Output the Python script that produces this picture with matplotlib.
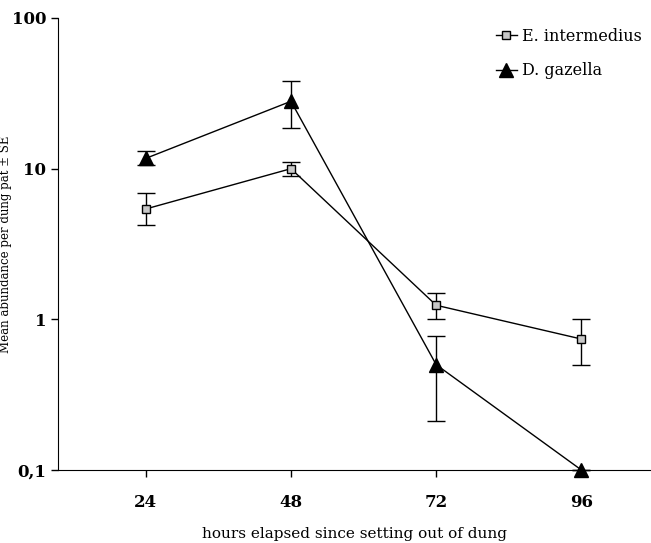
import matplotlib
matplotlib.use("Agg")
import matplotlib.pyplot as plt
from matplotlib.lines import Line2D
import numpy as np

hours = [24, 48, 72, 96]
e_int_mean = [5.4, 10.0, 1.24, 0.74]
e_int_lo = [4.2, 9.0, 1.0, 0.50]
e_int_hi = [6.9, 11.0, 1.49, 1.0]
d_gaz_hours = [24, 48, 72, 96]
d_gaz_mean = [11.7, 28.0, 0.50, 0.1]
d_gaz_lo = [10.5, 18.5, 0.21, 0.1]
d_gaz_hi = [13.0, 38.0, 0.78, 0.1]
yticks = [0.1, 1, 10, 100]
ytick_labels = ["0,1", "1", "10", "100"]

plt.rcParams['font.family'] = ['DejaVu Serif']

fig = plt.figure(figsize=(6.51, 5.43), dpi=100)
ax = fig.add_axes([58/651, 73/543, 1 - 58/651, (470-18)/543])

def err(mean, lo, hi):
    m = np.array(mean); return [m - np.array(lo), np.array(hi) - m]

sq_style = dict(marker='s', ms=6, mfc='#c8c8c8', mec='black', mew=1.0)
tri_style = dict(marker='^', ms=10, mfc='black', mec='black')

ax.errorbar(hours, e_int_mean, yerr=err(e_int_mean, e_int_lo, e_int_hi),
            color='black', lw=1.0, elinewidth=1.0, capsize=6.5, capthick=1.0,
            zorder=3, **sq_style)
ax.errorbar(d_gaz_hours, d_gaz_mean, yerr=err(d_gaz_mean, d_gaz_lo, d_gaz_hi),
            color='black', lw=1.0, elinewidth=1.0, capsize=6.5, capthick=1.0,
            zorder=3, clip_on=False, **tri_style)

ax.set_yscale('log')
ax.set_ylim(0.1, 100)
ax.set_xlim(9.5, 107.5)
ax.set_yticks(yticks)
ax.set_yticklabels(ytick_labels)
ax.minorticks_off()
ax.set_xticks(hours)
ax.set_xticklabels([str(h) for h in hours])
for s in ['top', 'right']:
    ax.spines[s].set_visible(False)
ax.tick_params(direction='out', length=5, width=1, labelsize=12)
for lbl in ax.get_xticklabels() + ax.get_yticklabels():
    lbl.set_fontweight('bold')
ax.tick_params(axis='x', pad=12)
ax.set_xlabel('hours elapsed since setting out of dung', fontsize=11, labelpad=12)
ax.set_ylabel('Mean abundance per dung pat ± SE', fontsize=8.5)
ax.yaxis.set_label_coords(-0.078, 0.5)

handles = [Line2D([], [], color='black', lw=1.0, **sq_style),
           Line2D([], [], color='black', lw=1.0, **tri_style)]
ax.legend(handles, ['E. intermedius', 'D. gazella'], loc='upper right',
          bbox_to_anchor=(1.0, 1.0), borderaxespad=0.2, frameon=False,
          fontsize=11.5, handlelength=1.3, labelspacing=1.1, handletextpad=0.3)

fig.savefig('out.png', dpi=100)
